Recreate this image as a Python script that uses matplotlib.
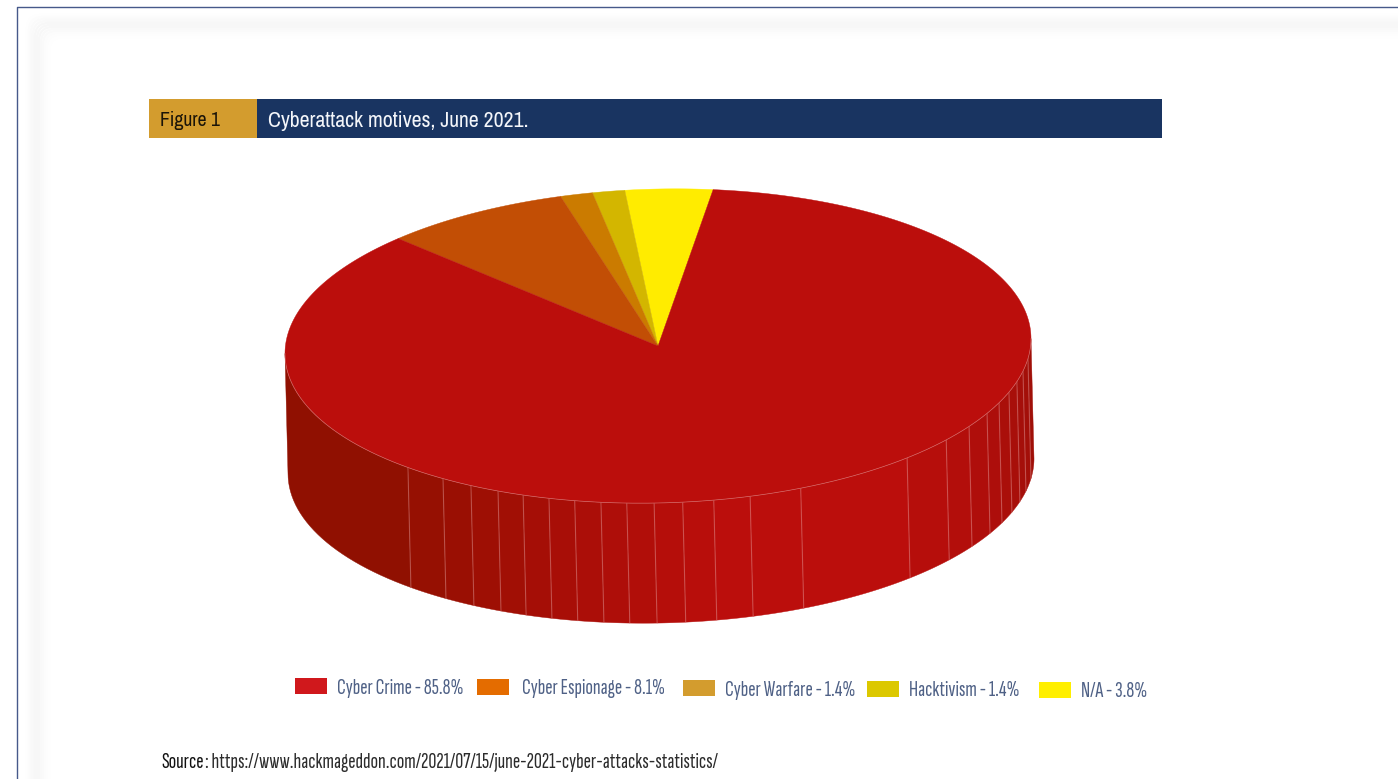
import numpy as np
import matplotlib
matplotlib.use("Agg")
import matplotlib.pyplot as plt
from matplotlib.patches import Polygon, Rectangle, FancyBboxPatch
from matplotlib.colors import to_hex
from matplotlib import font_manager as fm

installed = {f.name for f in fm.fontManager.ttflist}


def pick(*families):
    for fam in families:
        if fam in installed:
            return fam
    return "Roboto"


HEAD_FONT = pick("Archivo Narrow", "Pragati Narrow", "PT Sans Narrow", "Liberation Sans Narrow")
BODY_FONT = pick("Sofia Sans Extra Condensed", "Fira Sans Extra Condensed", "PT Sans Narrow", "Liberation Sans Narrow")

# Share of cyberattacks by motive, June 2021 (percent)
motives = ["Cyber Crime", "Cyber Espionage", "Cyber Warfare", "Hacktivism", "N/A"]
shares = [85.8, 8.1, 1.4, 1.4, 3.8]

top_colors = ["#BB0E0C", "#C24E05", "#CB7B00", "#D3B600", "#FFEC00"]
key_colors = ["#D0181C", "#E46C00", "#D39C2E", "#DCC800", "#FFEF00"]

# Disc geometry in pixels: tilted ellipse plus extruded side wall
CX, CY, A, B, SHEAR = 658.0, 346.0, 373.0, 157.0, -0.02
WALL_DX, WALL_DY = 3.0, 120.0
FIRST_EDGE = 8.5  # clockwise degrees from 12 o'clock where N/A begins

# Facet seams on the front wall, degrees along the rim
seam_deg = [7.3, 11.9, 15.8, 19.8, 23.9, 28.1, 33.5, 39.4, 48.1, 67.5, 75.7, 81.4,
            86.2, 90.6, 94.8, 98.8, 102.9, 107.0, 111.2, 115.4, 120.1, 125.2, 132.1]
# Wall shading anchors: rim angle against RGB
shade_deg = [0, 15, 35, 55, 80, 100, 120, 135, 180]
shade_r = [0x9E, 0xA6, 0xB2, 0xBB, 0xBB, 0xAC, 0x9C, 0x92, 0x8E]
shade_g = [0x0F, 0x0F, 0x0E, 0x0E, 0x0E, 0x0E, 0x0F, 0x10, 0x10]
shade_b = [0x08, 0x0A, 0x0B, 0x0C, 0x0C, 0x08, 0x04, 0x01, 0x00]


def rim(t_deg):
    t = np.radians(t_deg)
    dx = A * np.cos(t)
    return CX + dx, CY + B * np.sin(t) + SHEAR * dx


fig = plt.figure(figsize=(13.98, 7.79), dpi=100, facecolor="white")
ax = fig.add_axes([0, 0, 1, 1])
ax.set_xlim(0, 1398)
ax.set_ylim(779, 0)
ax.axis("off")

# Page frame with a soft inner shadow
ax.plot([16.5, 16.5, 1400], [781, 7.0, 7.0], color="#46598A", lw=1.0, zorder=1)
for d, level in zip(range(0, 24, 2),
                    [.996, .99, .982, .975, .97, .968, .97, .975, .982, .988, .993, .997]):
    ax.add_patch(FancyBboxPatch((27 + d, 15 + d), 1500, 900,
                                boxstyle="round,pad=0,rounding_size=14",
                                fc="none", ec=str(level), lw=1.6, zorder=1))

# Title band
ax.add_patch(Rectangle((149, 99), 108, 39, fc="#D39C2E", ec="none", zorder=2))
ax.add_patch(Rectangle((257, 99), 905, 39, fc="#193461", ec="none", zorder=2))
ax.text(160, 120.5, "Figure 1", family=HEAD_FONT, fontsize=14.2, color="#1A1408",
        va="center", ha="left", zorder=3)
ax.text(268, 120.5, "Cyberattack motives, June 2021.", family=HEAD_FONT, fontsize=15.7,
        color="#F4F6FA", va="center", ha="left", zorder=3)

# Side wall, facet by facet from right to left
edges = [0.0] + seam_deg + [180.0]
for t0, t1 in zip(edges[:-1], edges[1:]):
    ts = np.linspace(t0, t1, 30)
    x, y = rim(ts)
    pts = np.r_[np.c_[x, y], np.c_[x[::-1] + WALL_DX, y[::-1] + WALL_DY]]
    mid = (t0 + t1) / 2
    rgb = [np.interp(mid, shade_deg, ch) / 255 for ch in (shade_r, shade_g, shade_b)]
    shade = to_hex(rgb)
    ax.add_patch(Polygon(pts, closed=True, facecolor=shade, edgecolor=shade, lw=0.3, zorder=4))
for t in seam_deg:
    x, y = rim(t)
    ax.plot([x, x + WALL_DX], [y, y + WALL_DY], color="#E8A0A0", alpha=0.38, lw=0.8, zorder=5)

# Top face: wedges run anticlockwise from the N/A edge, with Cyber Crime last
order = [4, 3, 2, 1, 0]
edge = FIRST_EDGE
for i in order:
    sweep = shares[i] / sum(shares) * 360
    phis = np.linspace(edge, edge - sweep, max(int(sweep * 2), 4))
    x, y = rim(phis - 90)
    pts = np.r_[[[CX, CY]], np.c_[x, y]]
    ax.add_patch(Polygon(pts, closed=True, facecolor=top_colors[i], edgecolor=top_colors[i],
                         lw=0.3, zorder=6))
    edge -= sweep

# Pale highlight along the front of the rim
x, y = rim(np.linspace(0, 180, 300))
ax.plot(x, y, color="#F0C8C8", alpha=0.45, lw=0.5, zorder=7)

# Hand-placed key, stepping slightly down the page
key_x = [295, 477, 683, 867, 1039]
key_y = [678, 679, 680, 681, 681.5]
label_x = [337, 522, 725, 909, 1081]
for name, share, col, kx, ky, lx in zip(motives, shares, key_colors, key_x, key_y, label_x):
    ax.add_patch(Rectangle((kx, ky), 32, 16, fc=col, ec="none", zorder=3))
    ax.text(lx, ky + 10, f"{name} - {share}%", family=BODY_FONT, fontsize=16,
            color="#4F6186", va="center", ha="left", zorder=3)

# Source line
ax.text(161, 762, "Source", family=BODY_FONT, fontsize=16, color="#111111",
        va="center", ha="left", fontweight="medium", zorder=3)
ax.text(205, 762, ": https://www.hackmageddon.com/2021/07/15/june-2021-cyber-attacks-statistics/",
        family=BODY_FONT, fontsize=16, color="#2B2B2B", va="center", ha="left", zorder=3)

fig.savefig("out.png", dpi=100)
